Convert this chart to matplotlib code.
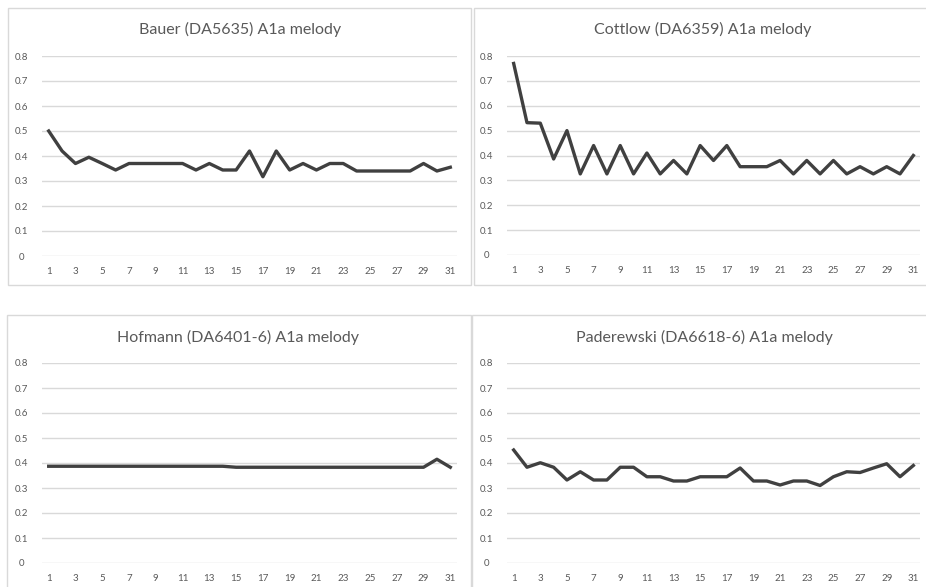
import matplotlib
matplotlib.use("Agg")
import matplotlib.pyplot as plt
from matplotlib.patches import Rectangle

plt.rcParams['font.family'] = ['Lato', 'DejaVu Sans']

x_labels = list(range(1, 32))

titles = [
    "Bauer (DA5635) A1a melody",
    "Cottlow (DA6359) A1a melody",
    "Hofmann (DA6401-6) A1a melody",
    "Paderewski (DA6618-6) A1a melody",
]

bauer = [0.50, 0.42, 0.37, 0.395, 0.37, 0.344, 0.37, 0.37, 0.37, 0.37,
         0.37, 0.344, 0.37, 0.344, 0.344, 0.42, 0.317, 0.42, 0.344, 0.37,
         0.344, 0.37, 0.37, 0.34, 0.34, 0.34, 0.34, 0.34, 0.37, 0.34, 0.355]

cottlow = [0.77, 0.532, 0.53, 0.386, 0.50, 0.326, 0.44, 0.326, 0.44, 0.326,
           0.41, 0.326, 0.38, 0.326, 0.44, 0.38, 0.44, 0.355, 0.355, 0.355,
           0.38, 0.326, 0.38, 0.326, 0.38, 0.326, 0.355, 0.326, 0.355, 0.326, 0.40]

hofmann = [0.387] * 14 + [0.383] * 15 + [0.415, 0.383]

paderewski = [0.452, 0.383, 0.401, 0.383, 0.332, 0.365, 0.332, 0.332, 0.383, 0.383,
              0.345, 0.345, 0.328, 0.328, 0.345, 0.345, 0.345, 0.38, 0.328, 0.328,
              0.312, 0.328, 0.328, 0.31, 0.345, 0.365, 0.362, 0.38, 0.397, 0.345, 0.39]

series = [bauer, cottlow, hofmann, paderewski]
y_ticks = [0, 0.1, 0.2, 0.3, 0.4, 0.5, 0.6, 0.7, 0.8]
y_tick_labels = ["0", "0.1", "0.2", "0.3", "0.4", "0.5", "0.6", "0.7", "0.8"]

W, H = 926, 587
fig = plt.figure(figsize=(W / 100, H / 100), dpi=100)

# (axes left, right, top, bottom), (border left, right, top, bottom), title x, title y -- pixels
layout = [
    ((42, 457, 56, 256), (8, 471, 8, 285), 240, 29),
    ((507, 920, 56, 255), (474, 940, 8, 285), 703, 29),
    ((42, 457, 363, 563), (7, 471, 315, 600), 238, 337),
    ((507, 920, 363, 563), (472, 940, 315, 600), 704, 337),
]

grid_c = "#d9d9d9"
text_c = "#595959"
line_c = "#404040"

for (ax_box, border, tx, ty), title, vals in zip(layout, titles, series):
    l, r, t, b = border
    fig.patches.append(Rectangle((l / W, 1 - b / H), (r - l) / W, (b - t) / H,
                                 transform=fig.transFigure, fill=False,
                                 edgecolor=grid_c, linewidth=1.0, zorder=0))
    al, ar, at, ab = ax_box
    ax = fig.add_axes([al / W, 1 - ab / H, (ar - al) / W, (ab - at) / H])
    ax.plot(x_labels, vals, color=line_c, linewidth=2.4, solid_joinstyle='round', zorder=3)
    ax.set_xlim(0.5, 31.5)
    ax.set_ylim(0, 0.8)
    ax.set_yticks(y_ticks)
    ax.set_yticklabels(y_tick_labels)
    ax.set_xticks(x_labels[::2])
    ax.set_xticklabels([str(v) for v in x_labels[::2]])
    ax.grid(axis='y', color=grid_c, linewidth=1.0)
    ax.set_axisbelow(True)
    for s in ax.spines.values():
        s.set_visible(False)
    ax.tick_params(axis='both', length=0, labelsize=7, labelcolor=text_c)
    ax.tick_params(axis='y', pad=15)
    ax.tick_params(axis='x', pad=8)
    for lab in ax.get_yticklabels():
        lab.set_horizontalalignment('center')
    fig.text(tx / W, 1 - ty / H, title, ha='center', va='center',
             fontsize=11.5, color=text_c)

fig.savefig("out.png", dpi=100, facecolor="white")
